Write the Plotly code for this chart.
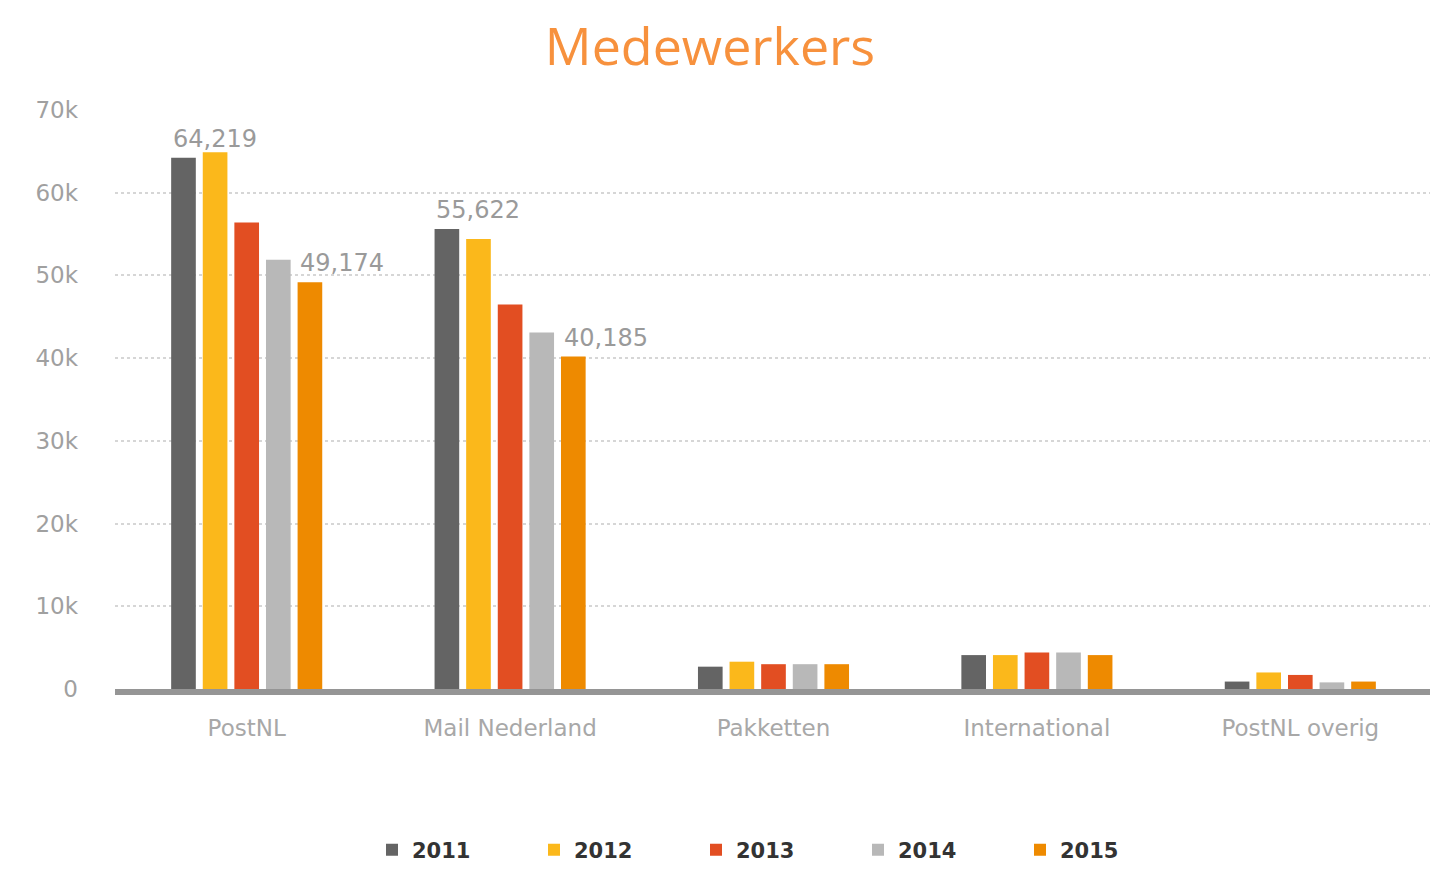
import plotly.graph_objects as go

categories = ["PostNL", "Mail Nederland", "Pakketten", "International", "PostNL overig"]
years = ["2011", "2012", "2013", "2014", "2015"]
values_2011 = [64219, 55622, 2700, 4100, 900]
values_2012 = [64900, 54400, 3300, 4100, 2000]
values_2013 = [56400, 46500, 3000, 4400, 1700]
values_2014 = [51900, 43100, 3000, 4400, 800]
values_2015 = [49174, 40185, 3000, 4100, 900]
series = [values_2011, values_2012, values_2013, values_2014, values_2015]
colors = ["#646464", "#FBB81B", "#E24E22", "#B8B8B8", "#EE8A00"]

# labelled points: (year index, category index)
labelled = [(0, 0), (4, 0), (0, 1), (4, 1)]

fig = go.Figure()
for yr, vals, col in zip(years, series, colors):
    fig.add_trace(go.Bar(name=yr, x=categories, y=vals, marker=dict(color=col, line=dict(width=0))))

# page is offset by the 8px body margin
OFF = 8
W, H = 1438 - OFF, 889 - OFF
L, R, T = 115 - OFF, 6, 110 - OFF
B = H - (689 - OFF)
pw, ph = W - L - R, H - T - B


def px(x):
    return (x - OFF - L) / pw


def py(y):
    return (H - B - (y - OFF)) / ph


slot = 31.8
for yi, ci in labelled:
    v = series[yi][ci]
    fig.add_annotation(x=categories[ci], y=v, text=f"{v:,}", showarrow=False,
                       xref="x", yref="y", yanchor="bottom", yshift=3,
                       xshift=(yi - 2 + 1) * slot,
                       font=dict(family="DejaVu Sans", size=24, color="#9a9a9a"))

fig.update_layout(
    width=W, height=H,
    margin=dict(l=L, r=R, t=T, b=B),
    paper_bgcolor="white", plot_bgcolor="white",
    barmode="group", bargap=0.40, bargroupgap=0.22,
    title=dict(text="Medewerkers", x=(710 - OFF) / W, xanchor="center",
               y=1 - (47 - OFF) / H, yanchor="middle",
               font=dict(family="Open Sans", size=52, color="#F7913D")),
    font=dict(family="DejaVu Sans", color="#a0a0a0"),
    showlegend=True,
    legend=dict(orientation="h", x=px(372), xanchor="left", y=py(850), yanchor="middle",
                font=dict(family="DejaVu Sans", size=21, color="#333333", weight="bold"),
                entrywidth=117, traceorder="normal"),
    xaxis=dict(showgrid=False, showline=True, linecolor="#959595", linewidth=6,
               ticks="", tickfont=dict(family="DejaVu Sans", size=23, color="#a8a8a8"),
               ticklabelstandoff=13, fixedrange=True),
    yaxis=dict(range=[0, 70000], tickvals=[0, 10000, 20000, 30000, 40000, 50000, 60000, 70000],
               ticktext=["0", "10k", "20k", "30k", "40k", "50k", "60k", "70k"],
               showgrid=True, gridcolor="#d6d6d6", gridwidth=2, griddash="dot",
               zeroline=False, showline=False, ticks="", ticklabelstandoff=36,
               tickfont=dict(family="DejaVu Sans", size=23, color="#a0a0a0")),
)

fig.write_html("out.html")
